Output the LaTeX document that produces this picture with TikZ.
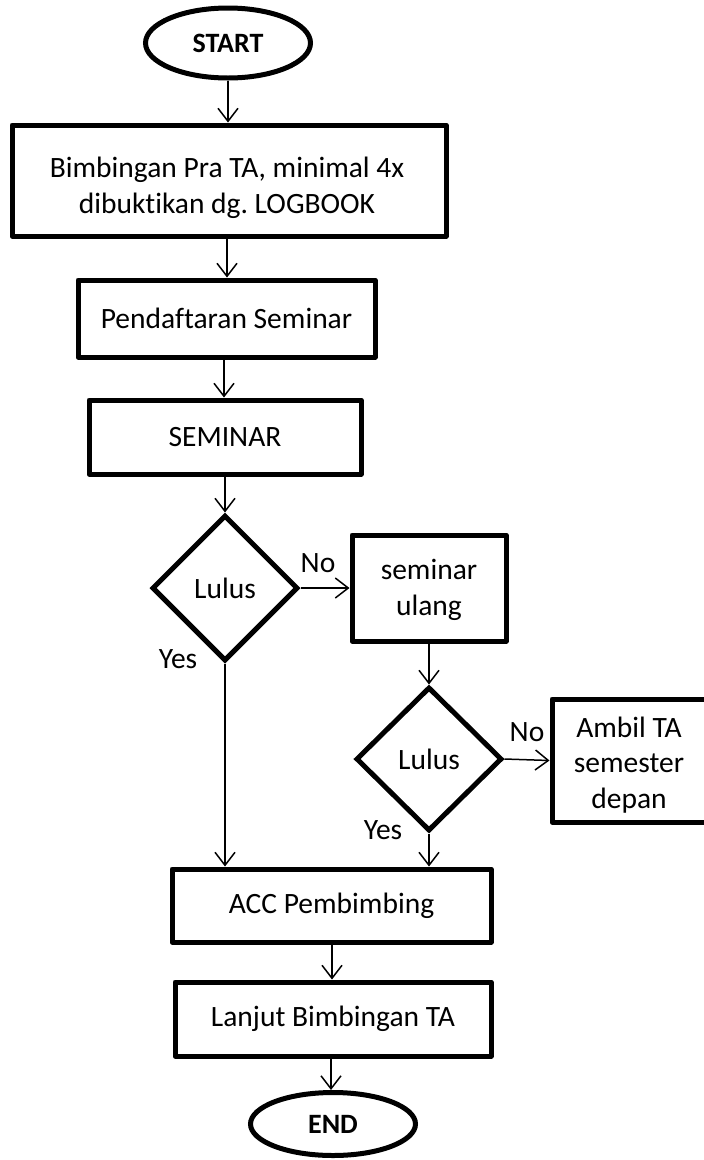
\documentclass[tikz,border=0pt]{standalone}
\usepackage{fontspec}
\setmainfont[Ligatures={NoCommon}]{Carlito}
\usetikzlibrary{shapes.geometric,arrows.meta}
\frenchspacing
\begin{document}
\begin{tikzpicture}[x=1pt,y=-1pt,
  every node/.style={font=\fontsize{29.5}{35.5}\selectfont, inner sep=0pt},
  procbox/.style={draw, line width=5pt, line join=round, rectangle, align=center},
  termnode/.style={draw, line width=5pt, ellipse, font=\fontsize{28}{35}\selectfont\bfseries},
  decnode/.style={draw, line width=5pt, diamond, line join=miter},
  flow/.style={line width=1.5pt, -{Straight Barb[length=13pt,width=20pt,line width=1.5pt]}},
  lbl/.style={},
  txt/.style={align=center}
]
\clip (0,0) rectangle (704,1160);
\fill[white] (0,0) rectangle (704,1160);

\node[termnode, minimum width=165pt, minimum height=70pt] (start) at (228,43) {START};
\node[procbox, minimum width=434pt, minimum height=111pt] (b1) at (229,180.5) {};
\node[txt] (b1t) at (227,188) {Bimbingan Pra TA, minimal 4x\\dibuktikan dg. LOGBOOK};
\node[procbox, minimum width=297pt, minimum height=77pt] (b2) at (226.5,318.5) {Pendaftaran Seminar};
\node[procbox, minimum width=272pt, minimum height=74pt] (b3) at (225,437) {SEMINAR};
\node[decnode, minimum width=146pt, minimum height=146pt] (d1) at (225,588) {};
\node (d1t) at (225,588) {Lulus};
\node[procbox, minimum width=154pt, minimum height=106pt] (b4) at (429,588) {};
\node[txt] (b4t) at (429,590) {seminar\\ulang};
\node[decnode, minimum width=146pt, minimum height=144pt] (d2) at (429,759) {};
\node (d2t) at (429,759) {Lulus};
\node[procbox, minimum width=156pt, minimum height=123pt] (b5) at (630,760.5) {};
\node[txt] (b5t) at (629,765) {Ambil TA\\semester\\depan};
\node[procbox, minimum width=319pt, minimum height=73pt] (b6) at (331.5,905.5) {ACC Pembimbing};
\node[procbox, minimum width=316pt, minimum height=74pt] (b7) at (333,1019) {Lanjut Bimbingan TA};
\node[termnode, minimum width=165pt, minimum height=63pt] (end) at (333,1124) {END};

\node[lbl] (no1) at (318,563) {No};
\node[lbl] (yes1) at (178,659) {Yes};
\node[lbl] (no2) at (527,732) {No};
\node[lbl] (yes2) at (383,830) {Yes};

\draw[flow] (start.south) -- (start.south |- b1.north);
\draw[flow] (b1.south -| 227,0) -- (227,0 |- b2.north);
\draw[flow] (b2.south -| 224,0) -- (224,0 |- b3.north);
\draw[flow] (b3.south) -- (b3.south |- d1.north);
\draw[flow] (d1.east) -- (b4.west);
\draw[flow] (b4.south) -- (b4.south |- d2.north);
\draw[flow] (d2.east) -- (b5.west);
\draw[flow] (d1.south) -- (d1.south |- b6.north);
\draw[flow] (d2.south) -- (d2.south |- b6.north);
\draw[flow] (b6.south -| 332,0) -- (332,0 |- b7.north);
\draw[flow] (b7.south -| 331,0) -- (331,0 |- end.north);
\end{tikzpicture}
\end{document}
